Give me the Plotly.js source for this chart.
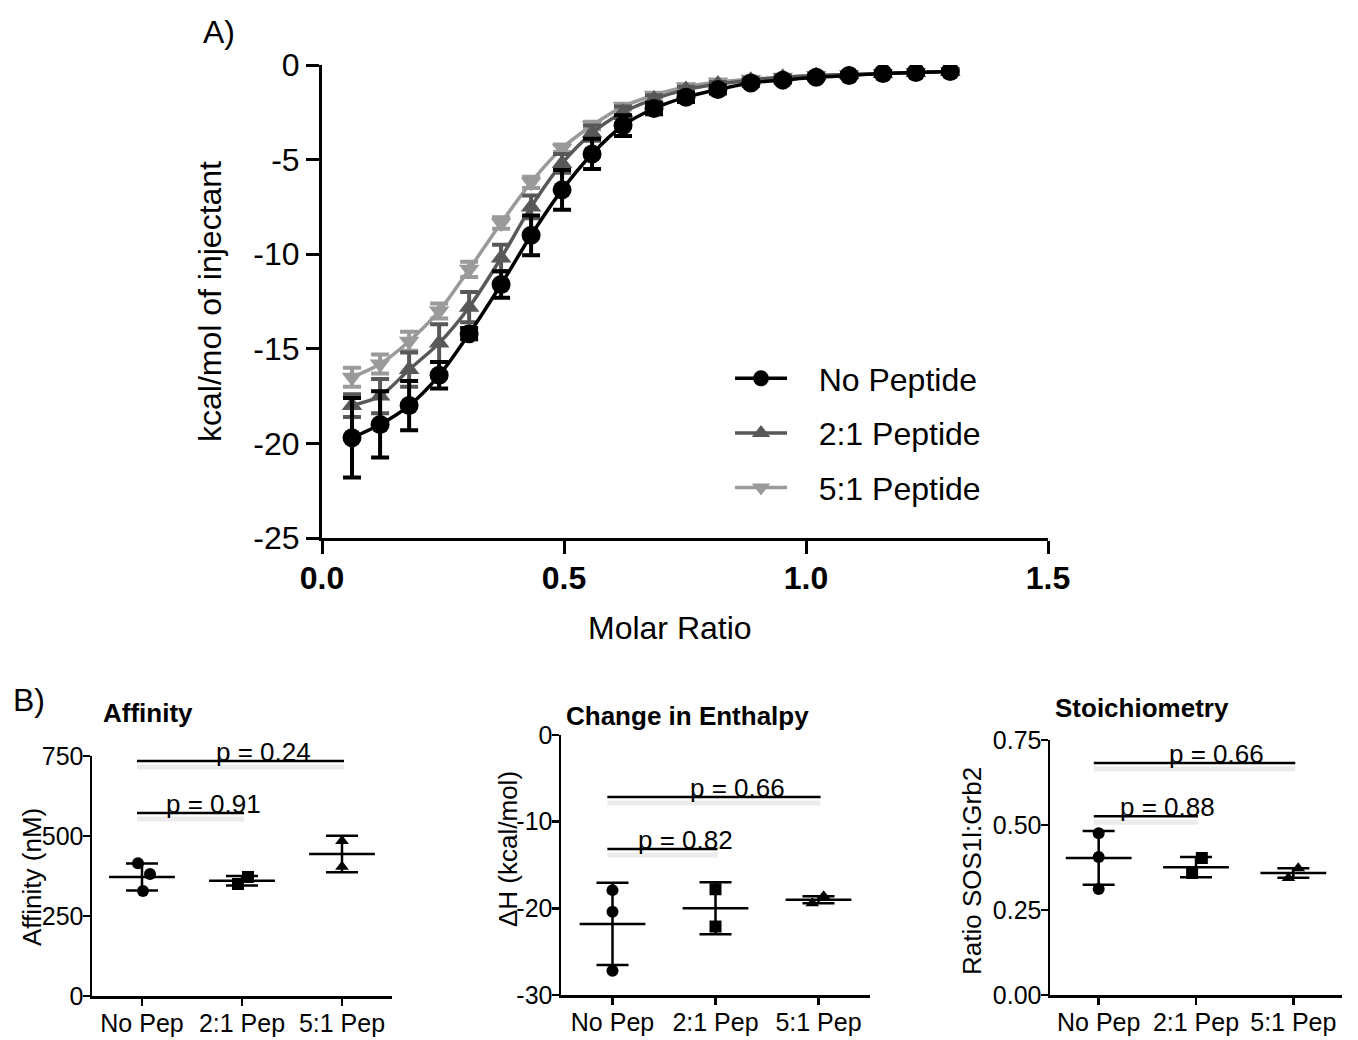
<!DOCTYPE html>
<html><head><meta charset="utf-8">
<script src="https://cdn.plot.ly/plotly-3.0.1.min.js"></script>
<style>body{margin:0;background:#fff}#chart{width:1358px;height:1040px}</style>
</head><body><div id="chart"></div>
<script>
// ---------- Panel A data ----------
const molarRatio = [0.062, 0.120, 0.180, 0.242, 0.304, 0.370, 0.432, 0.496, 0.558, 0.622, 0.686, 0.752, 0.818, 0.886, 0.952, 1.021, 1.089, 1.159, 1.227, 1.298];
const noPeptide  = [-19.7, -19.0, -18.0, -16.4, -14.2, -11.6, -9.0, -6.6, -4.7, -3.2, -2.3, -1.7, -1.3, -0.95, -0.8, -0.65, -0.55, -0.45, -0.4, -0.35];
const noPeptideErr = [2.1, 1.75, 1.3, 0.7, 0.3, 0.7, 1.05, 1.05, 0.8, 0.55, 0.3, 0.25, 0.2, 0.15, 0.12, 0.1, 0.1, 0.1, 0.1, 0.1];
const pep21 = [-18.0, -17.5, -16.1, -14.7, -12.8, -10.2, -7.5, -5.2, -3.6, -2.5, -1.8, -1.3, -1.0, -0.8, -0.65, -0.55, -0.5, -0.45, -0.4, -0.35];
const pep21Err = [0.6, 0.9, 0.9, 1.0, 0.8, 0.7, 0.6, 0.5, 0.4, 0.3, 0.2, 0.15, 0.1, 0.1, 0.1, 0.1, 0.1, 0.1, 0.1, 0.1];
const pep51 = [-16.5, -15.8, -14.6, -13.0, -10.8, -8.35, -6.2, -4.4, -3.2, -2.2, -1.6, -1.15, -0.9, -0.75, -0.65, -0.55, -0.5, -0.45, -0.4, -0.35];
const pep51Err = [0.5, 0.5, 0.5, 0.4, 0.4, 0.3, 0.3, 0.2, 0.2, 0.15, 0.1, 0.1, 0.1, 0.1, 0.1, 0.1, 0.1, 0.1, 0.1, 0.1];
const seriesNames = ['No Peptide', '2:1 Peptide', '5:1 Peptide'];
const xTickVals = [0, 0.5, 1.0, 1.5];
const xTickText = ['0.0', '0.5', '1.0', '1.5'];
const yTickVals = [0, -5, -10, -15, -20, -25];
const yTickText = ['0', '-5', '-10', '-15', '-20', '-25'];

// ---------- Panel B data ----------
const groups = ['No Pep', '2:1 Pep', '5:1 Pep'];
// Affinity (nM)
const affNoPep = [415, 381, 328];
const affPep21 = [350, 372];
const affPep51 = [484, 404];
const affMean = [372, 360, 444];
const affSD = [42, 15, 57];
const affTickVals = [0, 250, 500, 750];
const affTickText = ['0', '250', '500', '750'];
// Change in enthalpy (kcal/mol)
const dhNoPep = [-17.9, -20.4, -27.2];
const dhPep21 = [-17.8, -22.1];
const dhPep51 = [-19.4, -18.6];
const dhMean = [-21.8, -20.0, -19.0];
const dhSD = [4.75, 3.0, 0.4];
const dhTickVals = [0, -10, -20, -30];
const dhTickText = ['0', '-10', '-20', '-30'];
// Stoichiometry
const stNoPep = [0.476, 0.406, 0.312];
const stPep21 = [0.403, 0.359];
const stPep51 = [0.344, 0.373];
const stMean = [0.403, 0.376, 0.359];
const stSD = [0.079, 0.03, 0.014];
const stTickVals = [0, 0.25, 0.5, 0.75];
const stTickText = ['0.00', '0.25', '0.50', '0.75'];
// horizontal scatter of points within each group
const affJitter = [[-0.04, 0.08, 0.01], [-0.04, 0.06], [0, 0]];
const dhJitter = [[0, 0, 0], [0, 0], [-0.06, 0.05]];
const stJitter = [[0, 0, 0], [0.06, -0.04], [-0.05, 0.05]];
// significance comparisons
const sigFrom = [0, 0];
const sigTo = [1, 2];
const affSigY = [572, 734];
const affSigP = ['p = 0.91', 'p = 0.24'];
const dhSigY = [-13.15, -7.15];
const dhSigP = ['p = 0.82', 'p = 0.66'];
const stSigY = [0.526, 0.682];
const stSigP = ['p = 0.88', 'p = 0.66'];

const FONT = 'Liberation Sans, Arial, sans-serif';
const colA = ['#000000', '#585858', '#9a9a9a'];
const symA = ['circle', 'triangle-up', 'triangle-down'];
const yA = [noPeptide, pep21, pep51];
const eA = [noPeptideErr, pep21Err, pep51Err];
const NB = '\u00a0\u00a0\u00a0';

const traces = [];
// draw light series first so black is on top
[2, 1, 0].forEach(i => {
  traces.push({
    type: 'scatter', mode: 'lines+markers', name: NB + seriesNames[i],
    x: molarRatio, y: yA[i], xaxis: 'x', yaxis: 'y',
    line: {color: colA[i], width: 3.5, shape: 'spline', smoothing: 0.8},
    marker: {color: colA[i], symbol: symA[i], size: i === 0 ? 19 : 18},
    error_y: {type: 'data', array: eA[i], visible: true, color: colA[i], thickness: 4, width: 9},
    legendgroup: 'g' + i, legendrank: i + 1, showlegend: true
  });
});

function panelB(xa, ya, ptsArr, jit, mean, sd) {
  const syms = ['circle', 'square', 'triangle-up'];
  ptsArr.forEach((pts, g) => {
    traces.push({
      type: 'scatter', mode: 'markers', xaxis: xa, yaxis: ya, showlegend: false,
      x: pts.map((v, k) => g + jit[g][k]), y: pts,
      marker: {symbol: syms[g], size: 12, color: '#000'}
    });
  });
  traces.push({
    type: 'scatter', mode: 'markers', xaxis: xa, yaxis: ya, showlegend: false,
    x: [0, 1, 2], y: mean,
    marker: {symbol: 'line-ew', size: 47, color: '#000', line: {color: '#000', width: 2.5}},
    error_y: {type: 'data', array: sd, visible: true, color: '#000', thickness: 2.5, width: 16}
  });
}
panelB('x2', 'y2', [affNoPep, affPep21, affPep51], affJitter, affMean, affSD);
panelB('x3', 'y3', [dhNoPep, dhPep21, dhPep51], dhJitter, dhMean, dhSD);
panelB('x4', 'y4', [stNoPep, stPep21, stPep51], stJitter, stMean, stSD);

const shapes = [];
const annotations = [];
function sig(xa, ya, ys, ps) {
  ys.forEach((yv, k) => {
    const x0 = sigFrom[k] - 0.05, x1 = sigTo[k] + 0.02;
    shapes.push({type: 'line', xref: xa, yref: ya, x0: x0, x1: x1, y0: -6, y1: -6,
      ysizemode: 'pixel', yanchor: yv, line: {color: '#ebebeb', width: 5}});
    shapes.push({type: 'line', xref: xa, yref: ya, x0: x0, x1: x1, y0: yv, y1: yv,
      line: {color: '#000', width: 2.5}});
    annotations.push({xref: xa, yref: ya, x: (sigFrom[k] + sigTo[k]) / 2 + 0.21, y: yv,
      text: ps[k], showarrow: false, yanchor: 'bottom', yshift: -8,
      font: {family: FONT, size: 26, color: '#000'}});
  });
}
sig('x2', 'y2', affSigY, affSigP);
sig('x3', 'y3', dhSigY, dhSigP);
sig('x4', 'y4', stSigY, stSigP);

function paperText(text, px, py, size, bold, angle) {
  annotations.push({xref: 'paper', yref: 'paper', x: px / 1358, y: 1 - py / 1040,
    text: text, showarrow: false, xanchor: 'center', yanchor: 'middle', textangle: angle || 0,
    font: {family: FONT, size: size, color: '#000', weight: bold ? 'bold' : 'normal'}});
}
paperText('A)', 219, 32, 32, false);
paperText('B)', 29, 700, 32, false);
paperText('Affinity', 148, 713, 26, true);
paperText('Change in Enthalpy', 687, 716, 26, true);
paperText('Stoichiometry', 1142, 708, 26, true);
// axis titles placed where the reference shows them
paperText('Molar Ratio', 670, 628, 32, false);
paperText('Affinity (nM)', 32, 877, 26, false, -90);
paperText('ΔH (kcal/mol)', 508, 849, 26, false, -90);
paperText('Ratio SOS1l:Grb2', 972, 871, 26, false, -90);

const axA = {showline: true, linecolor: '#000', linewidth: 3, ticks: 'outside', ticklen: 13, tickwidth: 3,
  tickcolor: '#000', showgrid: false, zeroline: false};
const axB = {showline: true, linecolor: '#000', linewidth: 2.5, ticks: 'outside', ticklen: 7, tickwidth: 2.5,
  tickcolor: '#000', showgrid: false, zeroline: false,
  tickfont: {family: FONT, size: 25, color: '#000'}};
function bx(dom, anchor) {
  return Object.assign({}, axB, {domain: dom, anchor: anchor, range: [-0.5, 2.5], tickvals: [0, 1, 2], ticktext: groups,
    ticklabelstandoff: -4});
}
function by(dom, anchor, range, tv, tt) {
  return Object.assign({}, axB, {domain: dom, anchor: anchor, range: range, tickvals: tv, ticktext: tt,
    ticklabelstandoff: -6});
}

const layout = {
  width: 1358, height: 1040,
  margin: {l: 0, r: 0, t: 0, b: 0},
  paper_bgcolor: '#fff', plot_bgcolor: '#fff',
  font: {family: FONT, color: '#000'},
  showlegend: true,
  legend: {x: 730 / 1358, y: 1 - 351 / 1040, xanchor: 'left', yanchor: 'top',
    font: {family: FONT, size: 32, color: '#000'}, itemwidth: 52, traceorder: 'grouped', tracegroupgap: 10,
    bgcolor: 'rgba(0,0,0,0)'},
  xaxis: Object.assign({}, axA, {domain: [322 / 1358, 1048 / 1358], anchor: 'y', range: [0, 1.5],
    tickvals: xTickVals, ticktext: xTickText, ticklabelstandoff: -3,
    tickfont: {family: FONT, size: 32, color: '#000', weight: 'bold'}}),
  yaxis: Object.assign({}, axA, {domain: [1 - 538 / 1040, 1 - 65 / 1040], anchor: 'x', range: [-25, 0],
    tickvals: yTickVals, ticktext: yTickText,
    tickfont: {family: FONT, size: 32, color: '#000'},
    title: {text: 'kcal/mol of injectant', font: {family: FONT, size: 32, color: '#000'}, standoff: 23}}),
  xaxis2: bx([92 / 1358, 392 / 1358], 'y2'),
  yaxis2: by([1 - 996 / 1040, 1 - 756 / 1040], 'x2', [0, 750], affTickVals, affTickText),
  xaxis3: bx([561 / 1358, 870 / 1358], 'y3'),
  yaxis3: by([1 - 995 / 1040, 1 - 735 / 1040], 'x3', [-30, 0], dhTickVals, dhTickText),
  xaxis4: bx([1050 / 1358, 1342 / 1358], 'y4'),
  yaxis4: by([1 - 995 / 1040, 1 - 740 / 1040], 'x4', [0, 0.75], stTickVals, stTickText),
  shapes: shapes,
  annotations: annotations
};

Plotly.newPlot('chart', traces, layout, {displayModeBar: false, staticPlot: true});
</script>
</body></html>
